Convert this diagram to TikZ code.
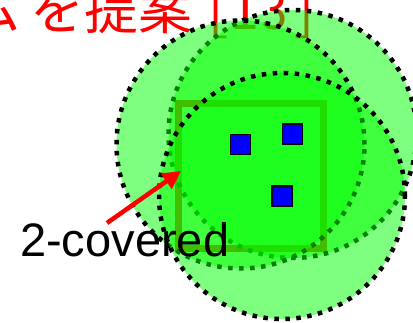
\documentclass[tikz,border=0pt]{standalone}
\usepackage{fontspec}
\newfontfamily\jpfont{Noto Sans CJK JP}
\newfontfamily\jphalf[CharacterWidth=Half]{Noto Sans CJK JP}
\newfontfamily\labelfont{Liberation Sans}
\usetikzlibrary{arrows.meta}
\tikzset{
  sensing/.style={fill=green, fill opacity=0.5, draw=black, draw opacity=1,
    line width=4.5pt, dash pattern=on 4.5pt off 6.5pt},
  sensor/.style={rectangle, draw=black, fill=blue, line width=1.5pt,
    minimum size=20pt, inner sep=0pt},
  pointer/.style={draw=red, line width=4.5pt, -{Triangle[length=18pt,width=18pt]}},
}
\begin{document}
\begin{tikzpicture}[x=1pt,y=-1pt]
  \useasboundingbox (0,0) rectangle (413,323);
  \clip (0,0) rectangle (413,323);
  \fill[white] (0,0) rectangle (413,323);
  % title (partly hidden below the circles)
  \node[anchor=base west, inner sep=0pt, text=red,
        font=\jpfont\fontsize{54pt}{60pt}\selectfont] (title) at (-34,30)
        {ム\kern10pt を提案\kern12pt{\jphalf[1\kern3pt 3\kern3pt ]}};
  % target area
  \draw[red, line width=7pt] (178.5,103.5) rectangle (323.5,248.5);
  % sensing ranges
  \coordinate (c2) at (292.5,134);
  \coordinate (c1) at (240.5,144.5);
  \coordinate (c3) at (282,196);
  \path[sensing] (c2) circle[radius=124pt];
  \path[sensing] (c1) circle[radius=124pt];
  \path[sensing] (c3) circle[radius=123pt];
  % sensors
  \node[sensor] (s1) at (c1) {};
  \node[sensor] (s2) at (c2) {};
  \node[sensor] (s3) at (c3) {};
  % label
  \node[anchor=base west, inner sep=0pt, font=\labelfont\fontsize{47pt}{50pt}\selectfont]
       (lbl) at (20,257) {2-covered};
  \coordinate (arrowtail) at (107,223);
  \coordinate (arrowtip) at (181,171);
  \draw[pointer] (arrowtail) -- (arrowtip);
\end{tikzpicture}
\end{document}
